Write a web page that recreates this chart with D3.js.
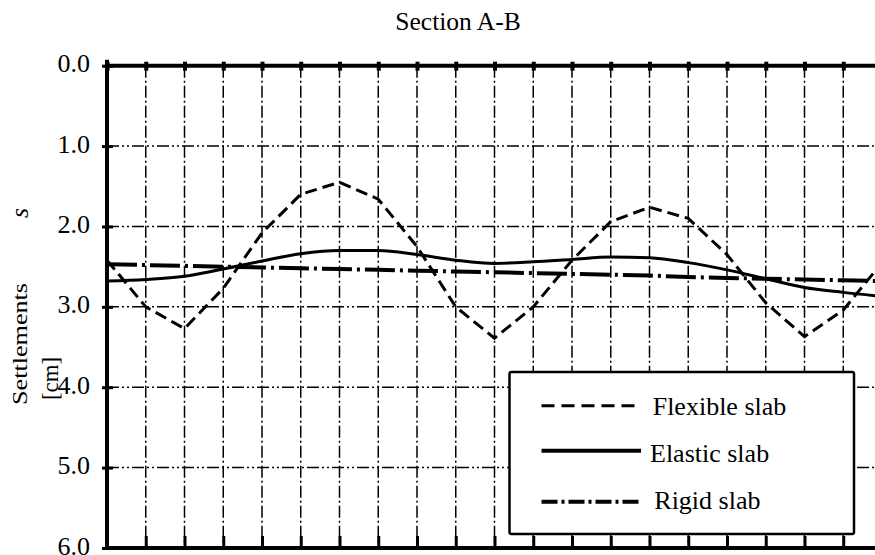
<!DOCTYPE html>
<html>
<head>
<meta charset="utf-8">
<script src="https://cdn.jsdelivr.net/npm/d3@7"></script>
<style>
  html, body { margin: 0; padding: 0; background: #fff; }
  svg, svg text { font-family: "Times New Roman", Times, "Liberation Serif", "DejaVu Serif", serif; }
  svg { display: block; }
</style>
</head>
<body>
<svg id="chart" width="875" height="555"></svg>
<script>
// ---- data ----
const positions = [0,1,2,3,4,5,6,7,8,9,10,11,12,13,14,15,16,17,18,19,20];
const flexibleSlab = [2.42, 3.00, 3.27, 2.77, 2.08, 1.60, 1.45, 1.66, 2.25, 3.00, 3.39, 3.00, 2.42, 1.94, 1.76, 1.90, 2.35, 2.95, 3.37, 3.04, 2.45];
const elasticSlab  = [2.68, 2.66, 2.62, 2.53, 2.43, 2.34, 2.30, 2.30, 2.35, 2.42, 2.46, 2.44, 2.41, 2.38, 2.39, 2.45, 2.54, 2.65, 2.76, 2.82, 2.87];
const rigidSlab    = [2.47, 2.48, 2.49, 2.50, 2.51, 2.52, 2.53, 2.54, 2.55, 2.56, 2.57, 2.58, 2.59, 2.60, 2.61, 2.63, 2.64, 2.65, 2.66, 2.67, 2.68];
const yTicks = [0, 1, 2, 3, 4, 5, 6];
const seriesNames = ["Flexible slab", "Elastic slab", "Rigid slab"];
const titleText = "Section A-B";

const FONT = "'Times New Roman', Times, 'Liberation Serif', 'DejaVu Serif', serif";

// ---- layout ----
const svg = d3.select("#chart");
const x = d3.scaleLinear().domain([0, 20]).range([107, 882]);
const y = d3.scaleLinear().domain([0, 6]).range([65.7, 548]);
const xLeft = x(0), xRight = 875, yTop = y(0), yBot = y(6);

// gridlines
const g = svg.append("g");
g.selectAll("line.vgrid").data(positions.filter(d => d > 0))
  .enter().append("line")
  .attr("x1", d => x(d)).attr("x2", d => x(d))
  .attr("y1", yTop).attr("y2", yBot)
  .attr("stroke", "#000").attr("stroke-width", 1.5)
  .attr("stroke-dasharray", "12,3,2,3");
g.selectAll("line.hgrid").data(yTicks.filter(d => d > 0 && d < 6))
  .enter().append("line")
  .attr("x1", xLeft).attr("x2", xRight)
  .attr("y1", d => y(d)).attr("y2", d => y(d))
  .attr("stroke", "#000").attr("stroke-width", 1.5)
  .attr("stroke-dasharray", "12,3,2,3,2,3");

// series lines
const lineLinear = (vals) => d3.line().x((d, i) => x(positions[i])).y(d => y(d))(vals);
const lineSmooth = (vals) => d3.line().curve(d3.curveMonotoneX).x((d, i) => x(positions[i])).y(d => y(d))(vals);

svg.append("path").attr("d", lineLinear(rigidSlab))
  .attr("fill", "none").attr("stroke", "#000").attr("stroke-width", 4)
  .attr("stroke-dasharray", "30,5,3,5");
svg.append("path").attr("d", lineSmooth(elasticSlab))
  .attr("fill", "none").attr("stroke", "#000").attr("stroke-width", 3);
svg.append("path").attr("d", lineLinear(flexibleSlab))
  .attr("fill", "none").attr("stroke", "#000").attr("stroke-width", 3)
  .attr("stroke-dasharray", "12,6");

// axes
const topAxis = d3.axisTop(x).tickValues(positions).tickSize(4).tickFormat("").tickSizeOuter(0);
const ta = svg.append("g").attr("transform", `translate(0,${yTop})`).call(topAxis);
ta.select(".domain").remove();
ta.selectAll(".tick line").attr("stroke", "#000").attr("stroke-width", 4).attr("y2", -4).attr("y1", 5);

const botAxis = d3.axisTop(x).tickValues(positions).tickSize(12).tickFormat("").tickSizeOuter(0);
const ba = svg.append("g").attr("transform", `translate(0,${yBot})`).call(botAxis);
ba.select(".domain").remove();
ba.selectAll(".tick line").attr("stroke", "#000").attr("stroke-width", 3);

const leftAxis = d3.axisLeft(y).tickValues(yTicks).tickFormat(d3.format(".1f")).tickSize(5).tickPadding(12).tickSizeOuter(0);
const la = svg.append("g").attr("transform", `translate(${xLeft},0)`).call(leftAxis);
la.attr("font-family", FONT).attr("font-size", 26);
la.select(".domain").remove();
la.selectAll(".tick line").attr("stroke", "#000").attr("stroke-width", 3).attr("x1", 6).attr("x2", -5);
la.selectAll(".tick text").attr("font-size", 26).attr("font-family", FONT)
  .attr("fill", "#000").attr("dy", null).attr("y", 6);

// axis lines
svg.append("line").attr("x1", xLeft - 2).attr("x2", xRight).attr("y1", yTop).attr("y2", yTop)
  .attr("stroke", "#000").attr("stroke-width", 4);
svg.append("line").attr("x1", xLeft - 2).attr("x2", xRight).attr("y1", yBot).attr("y2", yBot)
  .attr("stroke", "#000").attr("stroke-width", 4);
svg.append("line").attr("x1", xLeft).attr("x2", xLeft).attr("y1", yTop - 6).attr("y2", yBot + 2)
  .attr("stroke", "#000").attr("stroke-width", 4);

// title
svg.append("text").attr("x", 458).attr("y", 30).attr("text-anchor", "middle")
  .attr("font-family", FONT).attr("font-size", 25.5).text(titleText);

// y-axis label pieces
svg.append("text").attr("transform", "translate(27,344) rotate(-90)")
  .attr("text-anchor", "middle").attr("font-family", FONT).attr("font-size", 20)
  .attr("textLength", 122).attr("lengthAdjust", "spacingAndGlyphs").text("Settlements");
svg.append("text").attr("transform", "translate(28,213) rotate(-90)")
  .attr("text-anchor", "middle").attr("font-family", FONT).attr("font-size", 26)
  .attr("font-style", "italic").text("s");
svg.append("text").attr("transform", "translate(58,378.5) rotate(-90)")
  .attr("text-anchor", "middle").attr("font-family", FONT).attr("font-size", 24)
  .attr("textLength", 43).attr("lengthAdjust", "spacingAndGlyphs").text("[cm]");

// legend
const lg = svg.append("g");
lg.append("rect").attr("x", 509.5).attr("y", 372).attr("width", 344.5).attr("height", 162)
  .attr("rx", 2).attr("fill", "#fff").attr("stroke", "#000").attr("stroke-width", 2.5);
const legendItems = [
  { name: seriesNames[0], ly: 405.7, ty: 415, tx: 652.7, w: 3, dash: "13,7" },
  { name: seriesNames[1], ly: 450.7, ty: 461.7, tx: 650, w: 4, dash: null },
  { name: seriesNames[2], ly: 501.7, ty: 509, tx: 654.3, w: 4, dash: "16,4,3,4" }
];
legendItems.forEach(it => {
  lg.append("line").attr("x1", 541.5).attr("x2", 641).attr("y1", it.ly).attr("y2", it.ly)
    .attr("stroke", "#000").attr("stroke-width", it.w)
    .attr("stroke-dasharray", it.dash);
  lg.append("text").attr("x", it.tx).attr("y", it.ty).attr("font-family", FONT)
    .attr("font-size", 26).text(it.name);
});
</script>
</body>
</html>
